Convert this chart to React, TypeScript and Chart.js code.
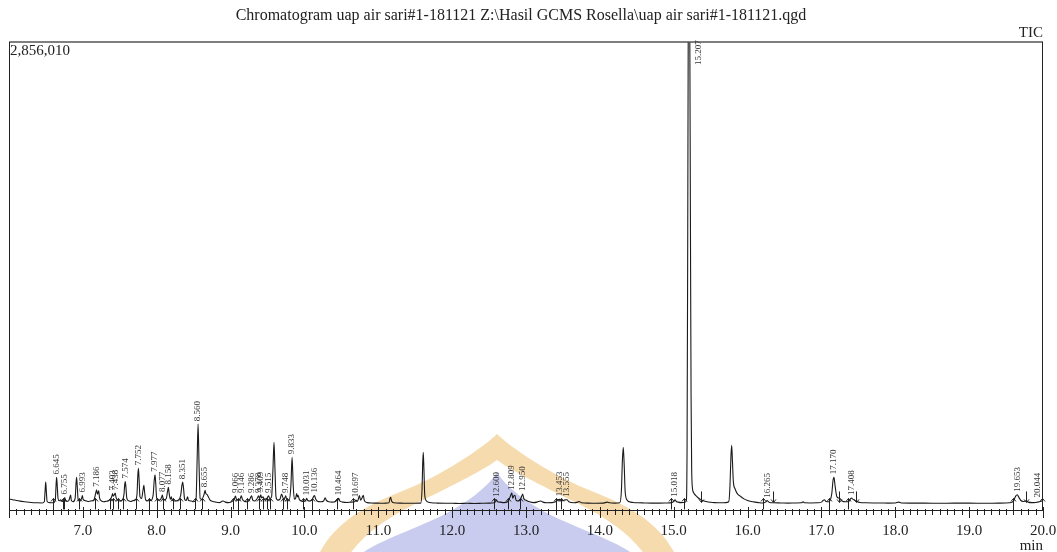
import React, { useEffect, useRef } from 'react';
import { Chart, registerables } from 'chart.js';

Chart.register(...registerables);

const SERIF = '"Liberation Serif", "DejaVu Serif", serif';

const TITLE = 'Chromatogram uap air sari#1-181121 Z:\\Hasil GCMS Rosella\\uap air sari#1-181121.qgd';
const CHANNEL = 'TIC';
const Y_MAX_LABEL = '2,856,010';
const Y_MAX = 2856010;
const X_MIN = 6.0;
const X_MAX = 20.0;
const X_UNIT = 'min';

// Total ion current trace: [retention time (min), intensity (thousand counts)]
const traceA: [number, number][] = [
  [6.00, 67], [6.05, 63], [6.10, 58], [6.15, 54], [6.22, 50], [6.30, 46], [6.38, 44], [6.45, 43],
  [6.478, 50], [6.489, 120], [6.497, 170], [6.505, 118], [6.516, 52], [6.55, 45], [6.60, 44],
  [6.627, 62], [6.637, 150], [6.645, 199], [6.653, 148], [6.664, 70], [6.68, 56], [6.70, 62],
  [6.72, 52], [6.745, 58], [6.755, 76], [6.765, 56], [6.79, 53], [6.812, 60], [6.826, 80],
  [6.835, 91], [6.844, 58], [6.87, 51], [6.896, 72], [6.906, 150], [6.915, 200], [6.924, 148],
  [6.936, 64], [6.96, 54], [6.983, 72], [6.993, 88], [7.003, 66], [7.025, 58], [7.05, 55],
  [7.08, 52], [7.12, 56], [7.15, 62], [7.172, 98], [7.186, 123], [7.198, 96], [7.214, 117],
  [7.226, 74], [7.25, 56], [7.28, 50], [7.32, 53], [7.35, 58], [7.38, 70], [7.394, 86],
  [7.403, 100], [7.412, 84], [7.425, 92], [7.438, 103], [7.45, 76], [7.47, 60], [7.50, 55],
  [7.53, 60], [7.556, 92], [7.566, 150], [7.574, 174], [7.583, 140], [7.595, 72], [7.62, 56],
  [7.65, 52], [7.68, 58], [7.71, 62], [7.733, 95], [7.743, 200], [7.752, 255], [7.761, 190],
  [7.773, 82], [7.795, 70], [7.815, 122], [7.826, 150], [7.836, 110], [7.85, 62], [7.88, 56],
  [7.92, 58], [7.952, 92], [7.966, 180], [7.977, 215], [7.987, 160], [7.999, 72], [8.02, 60],
  [8.05, 62], [8.067, 80], [8.077, 91], [8.086, 70], [8.10, 62], [8.13, 70], [8.146, 112],
  [8.158, 138], [8.169, 100], [8.184, 66], [8.198, 80], [8.21, 60], [8.25, 55], [8.29, 60],
  [8.326, 92], [8.341, 150], [8.351, 170], [8.362, 138], [8.378, 66], [8.40, 58], [8.418, 80],
  [8.43, 58], [8.47, 55], [8.50, 50], [8.532, 62], [8.547, 300], [8.560, 524], [8.573, 280],
  [8.588, 70], [8.61, 65], [8.642, 96], [8.655, 120], [8.665, 100], [8.68, 95], [8.70, 80],
  [8.72, 62], [8.76, 52], [8.80, 48], [8.85, 45], [8.88, 52], [8.90, 55], [8.93, 48], [8.97, 45],
];

const traceB: [number, number][] = [
  [9.00, 47], [9.03, 55], [9.052, 70], [9.066, 85], [9.08, 65], [9.10, 60], [9.12, 60],
  [9.135, 75], [9.146, 86], [9.16, 65], [9.18, 55], [9.22, 50], [9.26, 65], [9.275, 80],
  [9.286, 86], [9.30, 60], [9.33, 55], [9.36, 70], [9.378, 86], [9.392, 70], [9.409, 92],
  [9.42, 74], [9.44, 80], [9.46, 65], [9.49, 70], [9.515, 86], [9.53, 70], [9.555, 80],
  [9.574, 250], [9.588, 413], [9.601, 250], [9.615, 80], [9.64, 60], [9.67, 66], [9.69, 97],
  [9.705, 80], [9.72, 65], [9.736, 76], [9.748, 86], [9.76, 60], [9.79, 56], [9.817, 150],
  [9.833, 322], [9.848, 150], [9.864, 66], [9.88, 70], [9.895, 100], [9.905, 80], [9.915, 90],
  [9.93, 65], [9.96, 55], [9.99, 52], [10.02, 60], [10.031, 72], [10.045, 58], [10.07, 55],
  [10.10, 60], [10.122, 80], [10.136, 88], [10.15, 70], [10.17, 55], [10.22, 50], [10.26, 55],
  [10.28, 75], [10.295, 60], [10.33, 50], [10.38, 48], [10.42, 52], [10.45, 68], [10.464, 72],
  [10.48, 55], [10.52, 48], [10.58, 46], [10.63, 48], [10.68, 50], [10.697, 60], [10.715, 52],
  [10.732, 70], [10.745, 88], [10.76, 60], [10.782, 76], [10.797, 90], [10.812, 56], [10.85, 45],
  [10.90, 43], [10.95, 42], [11.00, 42], [11.05, 41], [11.10, 42], [11.145, 44], [11.158, 70],
  [11.168, 77], [11.18, 55], [11.21, 44], [11.30, 42], [11.40, 41], [11.50, 41], [11.575, 42],
  [11.592, 120], [11.601, 280], [11.609, 352], [11.618, 250], [11.628, 100], [11.645, 60],
  [11.68, 48], [11.72, 44], [11.80, 42], [11.90, 41],
];

const traceC: [number, number][] = [
  [12.00, 41], [12.10, 40], [12.20, 41], [12.30, 40], [12.40, 41], [12.50, 42], [12.57, 44],
  [12.59, 55], [12.600, 62], [12.615, 50], [12.65, 48], [12.70, 45], [12.75, 50], [12.785, 80],
  [12.797, 95], [12.809, 103], [12.82, 72], [12.835, 86], [12.85, 90], [12.865, 60], [12.89, 55],
  [12.92, 60], [12.942, 85], [12.955, 97], [12.97, 70], [13.00, 60], [13.05, 50], [13.10, 45],
  [13.15, 48], [13.20, 55], [13.23, 48], [13.28, 44], [13.35, 45], [13.40, 50], [13.435, 62],
  [13.453, 65], [13.47, 55], [13.50, 58], [13.53, 62], [13.555, 63], [13.58, 50], [13.65, 44],
  [13.70, 48], [13.72, 52], [13.75, 44], [13.85, 42], [13.95, 41], [14.05, 42], [14.10, 48],
  [14.13, 44], [14.20, 42], [14.27, 44], [14.292, 120], [14.305, 300], [14.317, 383],
  [14.329, 280], [14.343, 110], [14.37, 60], [14.40, 50], [14.45, 46], [14.52, 44], [14.60, 43],
  [14.70, 42], [14.80, 42], [14.90, 43], [14.97, 45],
];

const traceD: [number, number][] = [
  [15.00, 52], [15.018, 62], [15.035, 52], [15.06, 48], [15.10, 45], [15.15, 46], [15.172, 60],
  [15.181, 400], [15.190, 1700], [15.197, 3000], [15.207, 3400], [15.217, 3000], [15.226, 1800],
  [15.235, 700], [15.243, 260], [15.252, 140], [15.27, 105], [15.30, 88], [15.33, 75],
  [15.36, 65], [15.40, 56], [15.45, 50], [15.50, 47], [15.55, 45], [15.60, 44], [15.65, 44],
  [15.70, 45], [15.745, 50], [15.762, 150], [15.775, 330], [15.785, 395], [15.795, 300],
  [15.808, 170], [15.83, 130], [15.86, 100], [15.90, 85], [15.95, 68], [16.00, 58], [16.05, 52],
  [16.10, 48], [16.15, 45], [16.20, 43], [16.245, 48], [16.265, 57], [16.28, 52], [16.30, 46],
  [16.35, 44], [16.45, 43], [16.55, 42], [16.65, 43], [16.73, 44], [16.754, 50], [16.77, 44],
  [16.85, 43], [16.95, 44], [17.00, 48], [17.022, 58], [17.04, 63], [17.06, 52], [17.10, 50],
  [17.14, 100], [17.157, 180], [17.170, 200], [17.184, 150], [17.21, 80], [17.25, 70],
  [17.28, 55], [17.32, 50], [17.37, 52], [17.395, 70], [17.408, 73], [17.42, 68], [17.45, 60],
  [17.48, 52], [17.52, 46], [17.60, 44], [17.70, 43], [17.80, 43], [17.90, 42], [18.00, 43],
  [18.05, 48], [18.08, 43], [18.20, 42], [18.40, 42], [18.60, 41], [18.80, 42], [19.00, 42],
  [19.20, 41], [19.40, 42], [19.55, 44], [19.60, 55], [19.63, 85], [19.653, 93], [19.67, 80],
  [19.70, 58], [19.73, 52], [19.77, 55], [19.80, 48], [19.85, 45], [19.90, 46], [19.95, 50],
  [20.00, 58],
];

// Peak retention-time labels
const peakLabels: number[] = [
  6.645, 6.755, 6.993, 7.186, 7.403, 7.438, 7.574, 7.752, 7.977, 8.077, 8.158, 8.351, 8.560,
  8.655, 9.066, 9.146, 9.286, 9.378, 9.409, 9.515, 9.748, 9.833, 10.031, 10.136, 10.464, 10.697,
  12.600, 12.809, 12.950, 13.453, 13.555, 15.018, 15.207, 16.265, 17.170, 17.408, 19.653, 20.044,
];

// Integration markers
const peakStarts: number[] = [
  6.60, 6.727, 6.745, 6.948, 7.164, 7.367, 7.412, 7.48, 7.539, 7.72, 7.90, 8.00, 8.089, 8.225,
  8.315, 8.518, 8.609, 9.037, 9.105, 9.218, 9.389, 9.443, 9.489, 9.534, 9.714, 9.768, 9.985,
  10.098, 10.437, 10.662, 12.567, 12.76, 12.919, 13.406, 13.47, 14.97, 15.139, 16.213, 17.106,
  17.364, 19.589, 19.98,
];
const peakEnds: number[] = [15.365, 16.34, 17.24, 17.468, 19.77];
const MARKER_LEVEL = 40; // thousand counts

const watermarkPlugin = {
  id: 'watermark',
  beforeDraw(chart: any) {
    const ctx = chart.ctx;
    const c = 497;
    ctx.save();
    ctx.fillStyle = '#F6DBAE';
    ctx.beginPath();
    ctx.moveTo(c, 434);
    ctx.bezierCurveTo(c - 12, 446, c - 55, 476, c - 97, 492);
    ctx.bezierCurveTo(c - 135, 507, c - 165, 525, c - 180, 558);
    ctx.lineTo(c + 180, 558);
    ctx.bezierCurveTo(c + 165, 525, c + 135, 507, c + 97, 492);
    ctx.bezierCurveTo(c + 55, 476, c + 12, 446, c, 434);
    ctx.closePath();
    ctx.fill();
    ctx.fillStyle = '#ffffff';
    ctx.beginPath();
    ctx.moveTo(c, 460);
    ctx.bezierCurveTo(c - 10, 468, c - 45, 486, c - 80, 503);
    ctx.bezierCurveTo(c - 110, 518, c - 135, 535, c - 150, 558);
    ctx.lineTo(c + 150, 558);
    ctx.bezierCurveTo(c + 135, 535, c + 110, 518, c + 80, 503);
    ctx.bezierCurveTo(c + 45, 486, c + 10, 468, c, 460);
    ctx.closePath();
    ctx.fill();
    ctx.fillStyle = '#C9CCEF';
    ctx.beginPath();
    ctx.moveTo(c, 472);
    ctx.bezierCurveTo(c - 8, 486, c - 30, 504, c - 62, 519);
    ctx.bezierCurveTo(c - 100, 536, c - 128, 545, c - 140, 558);
    ctx.lineTo(c + 140, 558);
    ctx.bezierCurveTo(c + 128, 545, c + 100, 536, c + 62, 519);
    ctx.bezierCurveTo(c + 30, 504, c + 8, 486, c, 472);
    ctx.closePath();
    ctx.fill();
    ctx.restore();
  },
};

function makeOverlay(points: [number, number][]) {
  return {
    id: 'overlay',
    afterDraw(chart: any) {
      const ctx = chart.ctx;
      const xs = chart.scales.x;
      const ys = chart.scales.y;
      const { left, right, top, bottom } = chart.chartArea;
      ctx.save();

      // frame
      ctx.strokeStyle = '#555';
      ctx.lineWidth = 1.5;
      ctx.beginPath();
      ctx.moveTo(left, top);
      ctx.lineTo(right, top);
      ctx.stroke();
      ctx.strokeStyle = '#222';
      ctx.lineWidth = 1;
      ctx.beginPath();
      ctx.moveTo(left + 0.5, top);
      ctx.lineTo(left + 0.5, bottom);
      ctx.moveTo(right - 0.5, top);
      ctx.lineTo(right - 0.5, bottom);
      ctx.moveTo(left, bottom + 0.5);
      ctx.lineTo(right, bottom + 0.5);
      ctx.stroke();

      // tick marks
      ctx.beginPath();
      (xs.ticks || []).forEach((t: any) => {
        const v = t.value;
        const x = Math.round(xs.getPixelForValue(v)) + 0.5;
        const major = Math.abs(v - Math.round(v)) < 1e-6;
        ctx.moveTo(x, bottom - (major ? 3 : 1));
        ctx.lineTo(x, bottom + (major ? 8 : 5));
      });
      ctx.stroke();

      // texts
      ctx.fillStyle = '#222';
      ctx.textBaseline = 'middle';
      ctx.font = `16px ${SERIF}`;
      ctx.textAlign = 'center';
      ctx.fillText(TITLE, 521, 16);
      ctx.font = `15px ${SERIF}`;
      ctx.textAlign = 'right';
      ctx.fillText(CHANNEL, right, 33);
      ctx.fillText(X_UNIT, right, 546);
      ctx.textAlign = 'left';
      ctx.fillText(Y_MAX_LABEL, left + 1, top + 9);

      // integration markers
      const by = ys.getPixelForValue(MARKER_LEVEL * 1000);
      ctx.strokeStyle = '#222';
      ctx.lineWidth = 1;
      ctx.beginPath();
      peakStarts.forEach((rt) => {
        const x = Math.round(xs.getPixelForValue(rt)) + 0.5;
        ctx.moveTo(x, by + 6);
        ctx.lineTo(x, by - 5);
        ctx.moveTo(x - 2.5, by - 2);
        ctx.lineTo(x, by - 5);
        ctx.lineTo(x + 2.5, by - 2);
      });
      peakEnds.forEach((rt) => {
        const x = Math.round(xs.getPixelForValue(rt)) + 0.5;
        ctx.moveTo(x, by - 12);
        ctx.lineTo(x, by - 1);
        ctx.moveTo(x - 2.5, by - 4);
        ctx.lineTo(x, by - 1);
        ctx.lineTo(x + 2.5, by - 4);
      });
      ctx.stroke();

      // peak labels
      ctx.fillStyle = '#333';
      ctx.font = `9px ${SERIF}`;
      ctx.textAlign = 'left';
      ctx.textBaseline = 'middle';
      peakLabels.forEach((rt) => {
        let apex = -Infinity;
        let nearest = points[0];
        points.forEach((p) => {
          if (Math.abs(p[0] - rt) <= 0.015) apex = Math.max(apex, p[1]);
          if (Math.abs(p[0] - rt) < Math.abs(nearest[0] - rt)) nearest = p;
        });
        if (!isFinite(apex)) apex = nearest[1];
        let x = xs.getPixelForValue(rt);
        let y = ys.getPixelForValue(apex * 1000) - 3;
        if (x > right - 5) x = right - 5;
        if (y < top + 20) {
          x += 10;
          y = top + 23;
        }
        ctx.save();
        ctx.translate(x, y);
        ctx.rotate(-Math.PI / 2);
        ctx.fillText(rt.toFixed(3), 0, 0);
        ctx.restore();
      });

      ctx.restore();
    },
  };
}

export default function App() {
  const ref = useRef<HTMLCanvasElement>(null);

  useEffect(() => {
    document.body.style.margin = '0';
    const canvas = ref.current;
    if (!canvas) return;
    const points: [number, number][] = [...traceA, ...traceB, ...traceC, ...traceD];
    const data = points.map(([x, k]) => ({ x, y: k * 1000 }));

    const chart = new Chart(canvas, {
      type: 'line',
      data: {
        datasets: [
          {
            data,
            borderColor: '#1a1a1a',
            borderWidth: 1.1,
            pointRadius: 0,
            fill: false,
            cubicInterpolationMode: 'monotone',
          },
        ],
      },
      options: {
        animation: false,
        responsive: false,
        layout: { padding: { left: 9, right: 14, top: 42, bottom: 8 } },
        plugins: {
          legend: { display: false },
          tooltip: { enabled: false },
          title: { display: false },
        },
        scales: {
          x: {
            type: 'linear',
            min: X_MIN,
            max: X_MAX,
            grid: { display: false },
            border: { display: false },
            afterFit: (scale: any) => {
              scale.paddingLeft = 0;
              scale.paddingRight = 0;
            },
            ticks: {
              stepSize: 0.1,
              autoSkip: false,
              maxRotation: 0,
              padding: 4,
              color: '#222',
              font: { family: SERIF, size: 15 },
              callback: (value: any) => {
                const v = Number(value);
                return Math.abs(v - Math.round(v)) < 1e-6 && v >= 7 ? v.toFixed(1) : '';
              },
            },
          },
          y: { display: false, min: 0, max: Y_MAX },
        },
      },
      plugins: [watermarkPlugin, makeOverlay(points)],
    } as any);

    return () => chart.destroy();
  }, []);

  return (
    <div style={{ width: 1057, height: 552, background: '#fff' }}>
      <canvas ref={ref} width={1057} height={552} style={{ display: 'block' }} />
    </div>
  );
}
